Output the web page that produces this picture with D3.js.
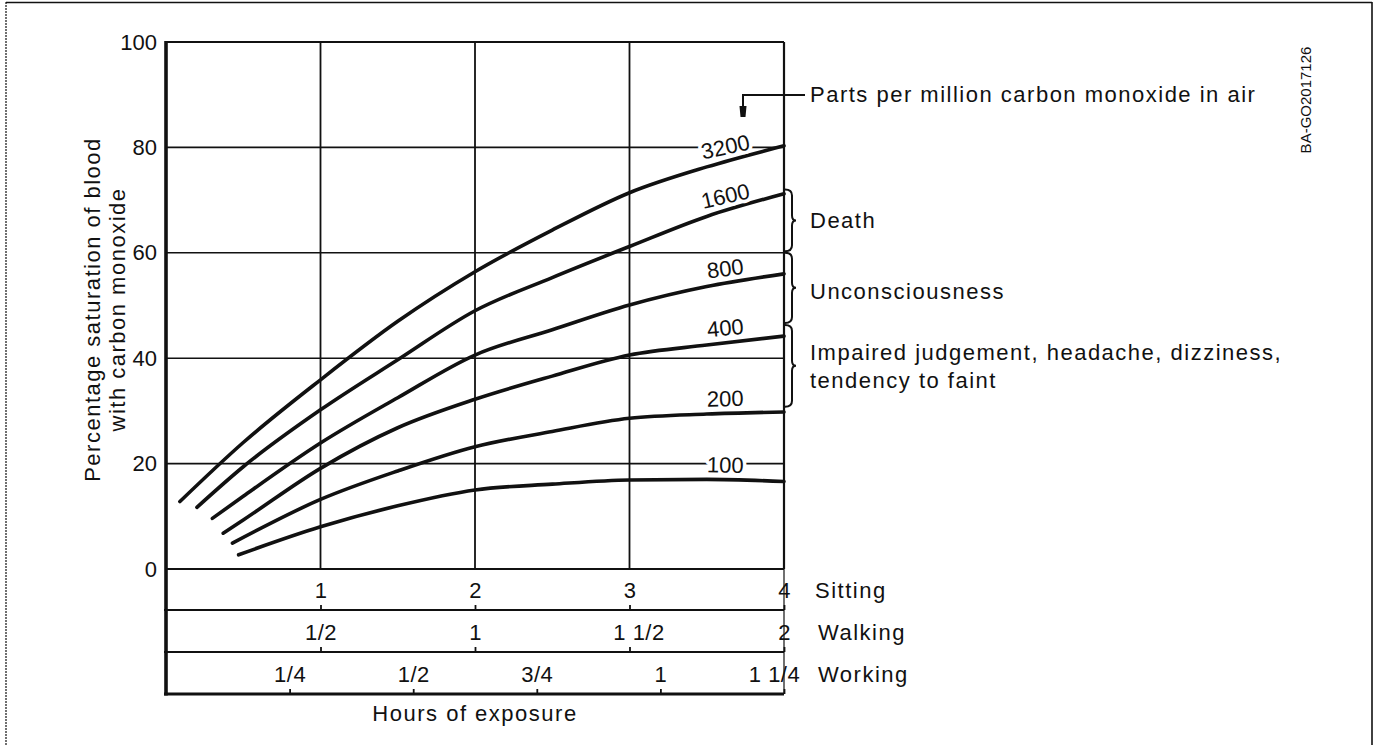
<!DOCTYPE html>
<html><head><meta charset="utf-8">
<script src="https://cdn.jsdelivr.net/npm/d3@7"></script>
<style>
html,body{margin:0;padding:0;background:#fff;}
svg{display:block;}
text{font-family:"Liberation Sans",Arial,Helvetica,sans-serif;fill:#111;}
</style></head><body>
<svg id="c" width="1376" height="745"></svg>
<script>
// ---------------- data ----------------
const ppmLabels = ["3200","1600","800","400","200","100"];
const curve3200 = [[0.09,12.8],[0.5,24.0],[1,35.9],[1.5,47.0],[2,56.4],[2.5,64.3],[3,71.4],[3.5,76.3],[4,80.3]];
const curve1600 = [[0.2,11.7],[0.5,19.4],[1,30.2],[1.5,39.7],[2,49.0],[2.5,55.3],[3,61.2],[3.5,66.9],[4,71.2]];
const curve800  = [[0.3,9.6],[0.5,13.8],[1,23.9],[1.5,32.5],[2,40.6],[2.5,45.4],[3,50.1],[3.5,53.6],[4,56.0]];
const curve400  = [[0.37,6.8],[0.5,9.3],[1,19.1],[1.5,26.8],[2,32.2],[2.5,36.6],[3,40.6],[3.5,42.5],[4,44.2]];
const curve200  = [[0.43,4.9],[1,13.2],[1.5,18.6],[2,23.2],[2.5,26.1],[3,28.6],[3.5,29.4],[4,29.8]];
const curve100  = [[0.47,2.7],[1,8.0],[1.5,12.0],[2,15.0],[2.5,16.1],[3,16.9],[3.5,17.0],[4,16.6]];
const yTicks = [0,20,40,60,80,100];
const xGrid = [1,2,3,4];
const sittingTicks = [1,2,3,4];        const sittingLabels = ["1","2","3","4"];
const walkingTicks = [0.5,1,1.5,2];    const walkingLabels = ["1/2","1","1 1/2","2"];
const workingTicks = [0.25,0.5,0.75,1,1.25]; const workingLabels = ["1/4","1/2","3/4","1","1 1/4"];
const activityNames = ["Sitting","Walking","Working"];
const effectNames = [["Death"],["Unconsciousness"],["Impaired judgement, headache, dizziness,","tendency to faint"]];
const effectRanges = [[72,60.3],[60,46.7],[46.3,30.8]];
const yTitle = ["Percentage saturation of blood","with carbon monoxide"];
const xTitle = "Hours of exposure";
const legendNote = "Parts per million carbon monoxide in air";
const docCode = "BA-GO2017126";

// ---------------- layout ----------------
const svg = d3.select("#c");
const INK = "#111";
const x = d3.scaleLinear().domain([0,4]).range([166,784]);
const xWalk = d3.scaleLinear().domain([0,2]).range([166,784]);
const xWork = d3.scaleLinear().domain([0,1.25]).range([166,784]);
const y = d3.scaleLinear().domain([0,100]).range([569,42]);
const rowLines = [610,652,694];

// outer frame
svg.append("line").attr("x1",6).attr("x2",1372).attr("y1",2.5).attr("y2",2.5).attr("stroke",INK).attr("stroke-width",1.6);
svg.append("line").attr("x1",6).attr("x2",6).attr("y1",2).attr("y2",745).attr("stroke",INK).attr("stroke-width",1.2).attr("stroke-dasharray","2,1");
svg.append("line").attr("x1",1372).attr("x2",1372).attr("y1",2).attr("y2",745).attr("stroke",INK).attr("stroke-width",1.6);

// grid
const g = svg.append("g");
g.selectAll(".hg").data(yTicks.filter(d=>d>0)).join("line")
  .attr("x1",x(0)).attr("x2",x(4)).attr("y1",d=>y(d)).attr("y2",d=>y(d))
  .attr("stroke",INK).attr("stroke-width",d=>d===100?2:1.6);
g.selectAll(".vg").data(xGrid).join("line")
  .attr("x1",d=>x(d)).attr("x2",d=>x(d)).attr("y1",y(100)).attr("y2",y(0))
  .attr("stroke",INK).attr("stroke-width",d=>d===4?2.2:1.8);
// baseline and row lines
g.append("line").attr("x1",x(0)).attr("x2",x(4)).attr("y1",y(0)).attr("y2",y(0)).attr("stroke",INK).attr("stroke-width",2.2);
g.selectAll(".rl").data(rowLines).join("line")
  .attr("x1",x(0)-2).attr("x2",x(4)).attr("y1",d=>d).attr("y2",d=>d)
  .attr("stroke",INK).attr("stroke-width",(d,i)=>i===2?3:2.2);
// right border extends through rows
g.append("line").attr("x1",x(4)).attr("x2",x(4)).attr("y1",y(0)).attr("y2",rowLines[2]).attr("stroke",INK).attr("stroke-width",1.2);
// left axis (thick)
g.append("line").attr("x1",x(0)).attr("x2",x(0)).attr("y1",y(100)-1).attr("y2",rowLines[2]+1.5).attr("stroke",INK).attr("stroke-width",3.6);

// y axis labels
const yAxis = d3.axisLeft(y).tickValues(yTicks).tickSize(0).tickPadding(8).tickFormat(d3.format("d"));
const ya = svg.append("g").attr("transform",`translate(${x(0)-1},0)`).call(yAxis);
ya.select(".domain").remove();
ya.selectAll("text").attr("font-size",22).attr("fill",INK)
  .style("font-family","'Liberation Sans',Arial,sans-serif");

// y title
const yt = svg.append("g").attr("transform",`translate(0,${(y(0)+y(100))/2+4}) rotate(-90)`);
yt.selectAll("text").data(yTitle).join("text")
  .attr("x",0).attr("y",(d,i)=>100+i*25).attr("text-anchor","middle")
  .attr("font-size",22).attr("letter-spacing",1.5).text(d=>d);

// activity axes
const dxFix = {"1 1/2":9,"1 1/4":-10};
function rowAxis(scale, ticks, labels, yPos){
  const ax = d3.axisTop(scale).tickValues(ticks).tickSize(5).tickPadding(7)
    .tickFormat((d,i)=>labels[i]);
  const a = svg.append("g").attr("transform",`translate(0,${yPos})`).call(ax);
  a.select(".domain").remove();
  a.selectAll(".tick line").attr("stroke",INK).attr("stroke-width",1.8);
  a.selectAll("text").attr("font-size",22).attr("fill",INK).attr("letter-spacing",0.5)
    .style("font-family","'Liberation Sans',Arial,sans-serif")
    .attr("dx",function(){return dxFix[this.textContent]||0;});
}
rowAxis(x, sittingTicks, sittingLabels, rowLines[0]);
rowAxis(xWalk, walkingTicks, walkingLabels, rowLines[1]);
rowAxis(xWork, workingTicks, workingLabels, rowLines[2]);

svg.selectAll(".act").data(activityNames).join("text")
  .attr("x",(d,i)=>i===0?815:818).attr("y",(d,i)=>rowLines[i]-20).attr("dy","0.35em")
  .attr("font-size",22).attr("letter-spacing",1.5).text(d=>d);

svg.append("text").attr("x",x(2)).attr("y",713).attr("dy","0.35em").attr("text-anchor","middle")
  .attr("font-size",22).attr("letter-spacing",1.5).text(xTitle);

// curves
const series = [curve3200,curve1600,curve800,curve400,curve200,curve100];
const line = d3.line().x(d=>x(d[0])).y(d=>y(d[1])).curve(d3.curveMonotoneX);
svg.append("g").selectAll("path").data(series).join("path")
  .attr("d",line).attr("fill","none").attr("stroke",INK).attr("stroke-width",3.6)
  .attr("stroke-linecap","round").attr("stroke-linejoin","round");

// curve labels
function valueAt(s,t){
  for(let i=1;i<s.length;i++){
    if(t<=s[i][0]){const a=s[i-1],b=s[i];return a[1]+(b[1]-a[1])*(t-a[0])/(b[0]-a[0]);}
  }
  return s[s.length-1][1];
}
const labT = 3.62;
const lab = svg.append("g");
series.forEach((s,i)=>{
  const n=s.length, a=s[n-2], b=s[n-1];
  const ang = Math.atan2(y(b[1])-y(a[1]), x(b[0])-x(a[0]))*180/Math.PI*0.8;
  const px = x(labT), py = y(valueAt(s,labT)) - 15;
  lab.append("text").attr("transform",`translate(${px},${py}) rotate(${ang})`)
    .attr("text-anchor","middle").attr("dy","0.35em").attr("font-size",22)
    .attr("stroke","#fff").attr("stroke-width",7).attr("paint-order","stroke")
    .attr("stroke-linejoin","round").text(ppmLabels[i]);
});

// braces and effect labels
const br = svg.append("g");
effectRanges.forEach((r,i)=>{
  const y1=y(r[0]), y2=y(r[1]), ym=(y1+y2)/2, x0=x(4)+1, xb=x0+7, xn=x0+11;
  const p = `M${x0},${y1} Q${xb},${y1} ${xb},${y1+6} L${xb},${ym-5} Q${xb},${ym} ${xn},${ym} Q${xb},${ym} ${xb},${ym+5} L${xb},${y2-6} Q${xb},${y2} ${x0},${y2}`;
  br.append("path").attr("d",p).attr("fill","none").attr("stroke",INK).attr("stroke-width",2);
  const lines = effectNames[i];
  lines.forEach((t,j)=>{
    br.append("text").attr("x",810).attr("y",ym+(j-(lines.length-1)/2)*28+(i===1?3:0)).attr("dy","0.35em")
      .attr("font-size",22).attr("letter-spacing",1.5).text(t);
  });
});

// legend note with leader
svg.append("path").attr("d",`M805,95 H743 V108`).attr("fill","none").attr("stroke",INK).attr("stroke-width",2);
svg.append("path").attr("d",`M739.5,106 L746.5,106 L745.5,117 L740.5,117 Z`).attr("fill",INK);
svg.append("text").attr("x",810).attr("y",94).attr("dy","0.35em").attr("font-size",22)
  .attr("letter-spacing",1.5).text(legendNote);

// document code
svg.append("text").attr("transform","translate(1306,100) rotate(-90)").attr("text-anchor","middle")
  .attr("dy","0.35em").attr("font-size",15).text(docCode);
</script>
</body></html>
